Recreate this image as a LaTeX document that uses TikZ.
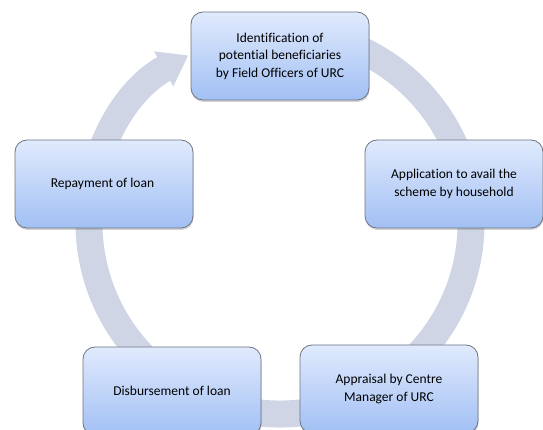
\documentclass[tikz,border=0pt]{standalone}
\usepackage{fontspec}
\setmainfont{Carlito}[Ligatures={NoCommon}]
\usetikzlibrary{arrows.meta,shadows,calc}
\definecolor{ringgray}{RGB}{207,213,228}
\definecolor{boxtop}{RGB}{224,234,253}
\definecolor{boxbottom}{RGB}{162,192,244}
\definecolor{boxline}{RGB}{110,116,128}
\tikzset{
    stage/.style={draw=boxline, line width=0.8pt, rounded corners=12pt,
        top color=boxtop, bottom color=boxbottom,
        minimum width=178pt, minimum height=88pt, align=center,
        font=\fontsize{13.5}{17.5}\selectfont,
        drop shadow={shadow xshift=0.5pt, shadow yshift=-2pt, opacity=0.35}},
}
\begin{document}
\begin{tikzpicture}[x=1pt,y=1pt]
    \useasboundingbox (0,0) rectangle (543,430);

    % Ring
    \coordinate (ringcentre) at (280,207);
    \draw[ringgray, line width=27pt, -{Triangle[width=38pt,length=28pt]}]
        ($(ringcentre)+(100:191)$) arc[start angle=100, end angle=-241.3, radius=191];

    % Stages
    \foreach \name/\pos/\txt in {
        identify/{(280,374)}/{Identification of\\potential beneficiaries\\by Field Officers of URC},
        apply/{(454,246)}/{Application to avail the\\scheme by household},
        appraise/{(389,41)}/{Appraisal by Centre\\Manager of URC},
        disburse/{(172,39)}/{Disbursement of loan},
        repay/{(104,246)}/{Repayment of loan}
        } {
        \node[stage] (\name) at \pos {\txt};
    }
\end{tikzpicture}
\end{document}
